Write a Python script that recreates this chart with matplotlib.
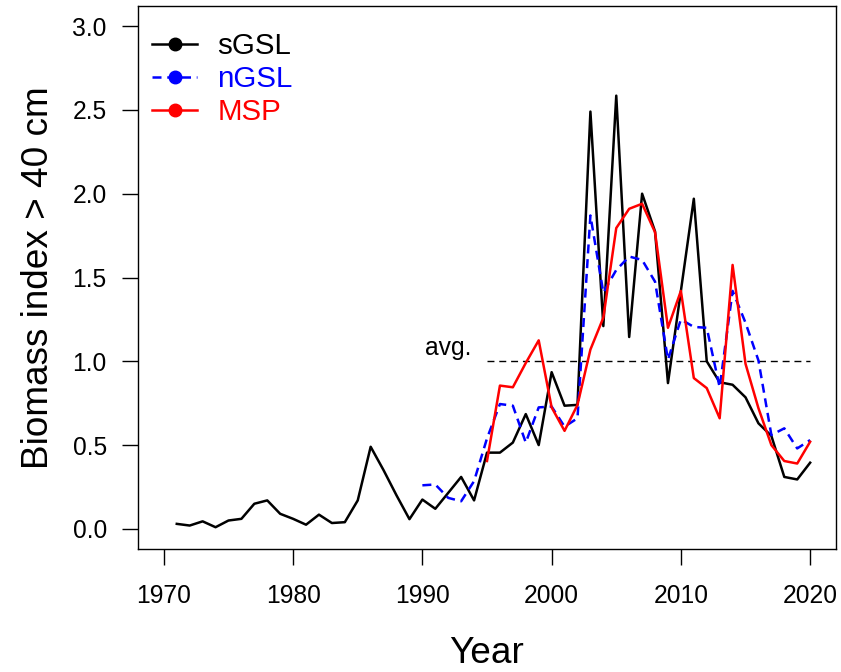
import matplotlib
matplotlib.use("Agg")
import matplotlib.pyplot as plt
from matplotlib.lines import Line2D

plt.rcParams['font.family'] = ['Liberation Sans', 'DejaVu Sans']

# Biomass index (> 40 cm) by region
years_sgsl = list(range(1971, 2021))
sgsl = [0.03, 0.02, 0.045, 0.01, 0.05, 0.06, 0.15, 0.17, 0.09, 0.06,
        0.025, 0.085, 0.035, 0.04, 0.17, 0.49, 0.35, 0.2, 0.058, 0.175,
        0.12, 0.215, 0.31, 0.17, 0.455, 0.455, 0.515, 0.685, 0.5, 0.935,
        0.735, 0.74, 2.49, 1.21, 2.585, 1.145, 2.0, 1.775, 0.87, 1.42,
        1.97, 1.0, 0.875, 0.86, 0.785, 0.63, 0.555, 0.31, 0.295, 0.395]

years_ngsl = list(range(1990, 2021))
ngsl = [0.26, 0.265, 0.185, 0.165, 0.285, 0.54, 0.745, 0.735, 0.515, 0.725,
        0.73, 0.61, 0.66, 1.87, 1.41, 1.545, 1.625, 1.605, 1.475, 1.01,
        1.25, 1.205, 1.2, 0.845, 1.42, 1.23, 1.005, 0.56, 0.6, 0.48, 0.53]

years_msp = list(range(1995, 2021))
msp = [0.405, 0.855, 0.845, 0.99, 1.125, 0.725, 0.585, 0.74, 1.07, 1.26,
       1.795, 1.91, 1.94, 1.77, 1.2, 1.42, 0.9, 0.84, 0.66, 1.575,
       0.985, 0.72, 0.5, 0.405, 0.39, 0.52]

avg_years = [1995, 2020]
avg_level = 1.0

series_names = ["sGSL", "nGSL", "MSP"]
series_colors = ["black", "blue", "red"]

x_ticks = [1970, 1980, 1990, 2000, 2010, 2020]
y_ticks = [0.0, 0.5, 1.0, 1.5, 2.0, 2.5, 3.0]

BASE = 17.7
LW = 1.8
NGSL_DASH = (3.6, 2.3)

fig = plt.figure(figsize=(8.41, 6.72), dpi=100)
ax = fig.add_axes([138 / 841, 1 - 549 / 672, (836 - 138) / 841, (549 - 6) / 672])

ax.plot(avg_years, [avg_level, avg_level], color="black", lw=1.0,
        dashes=(5, 3.5))
ax.text(1993.8, 1.035, "avg.", ha="right", va="baseline", fontsize=BASE)

ax.plot(years_sgsl, sgsl, color=series_colors[0], lw=LW)
ax.plot(years_ngsl, ngsl, color=series_colors[1], lw=LW, dashes=NGSL_DASH)
ax.plot(years_msp, msp, color=series_colors[2], lw=LW)

ax.set_xlim(1968, 2022)
ax.set_ylim(-0.12, 3.12)
ax.set_xticks(x_ticks)
ax.set_xticklabels([str(v) for v in x_ticks])
ax.set_yticks(y_ticks)
ax.set_yticklabels([f"{v:.1f}" for v in y_ticks])
ax.tick_params(axis="both", labelsize=BASE, length=11.5, width=1.0,
               direction="out", colors="black")
ax.tick_params(axis="x", pad=14)
ax.tick_params(axis="y", pad=11)
for s in ax.spines.values():
    s.set_linewidth(1.0)

ax.set_xlabel("Year", fontsize=BASE * 1.5, labelpad=20)
ax.set_ylabel("Biomass index > 40 cm", fontsize=BASE * 1.5, labelpad=12)

handles = [
    Line2D([], [], color=series_colors[0], lw=LW, marker="o", markersize=9),
    Line2D([], [], color=series_colors[1], lw=LW, marker="o", markersize=9,
           dashes=NGSL_DASH),
    Line2D([], [], color=series_colors[2], lw=LW, marker="o", markersize=9),
]
leg = ax.legend(handles, series_names, loc="upper left", frameon=False,
                fontsize=BASE * 1.2, handlelength=1.53, handletextpad=0.68,
                labelspacing=0.17, borderaxespad=0.0, borderpad=0.0,
                bbox_to_anchor=(0.02, 0.952))
for txt, c in zip(leg.get_texts(), series_colors):
    txt.set_color(c)

fig.savefig("out.png", dpi=100)
